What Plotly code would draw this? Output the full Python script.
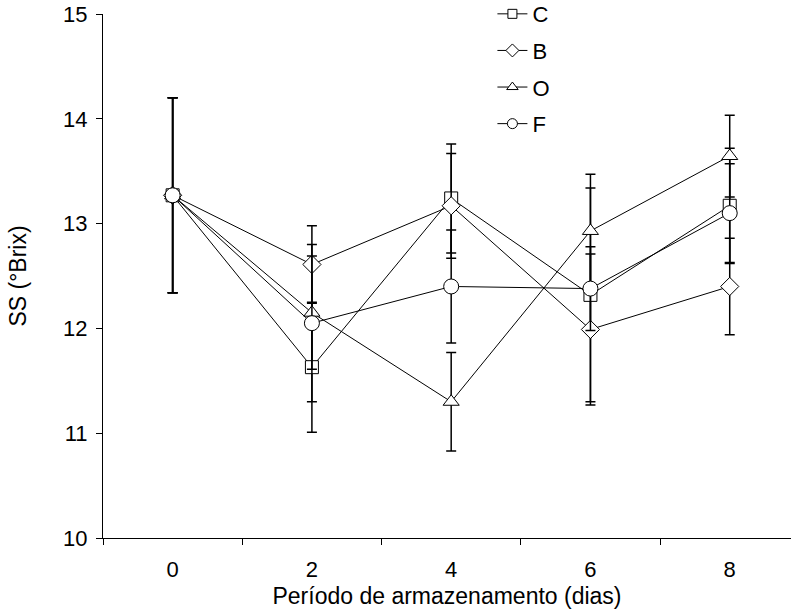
import plotly.graph_objects as go

days = ["0", "2", "4", "6", "8"]
series_names = ["C", "B", "O", "F"]
C_mean = [13.27, 11.63, 13.24, 12.32, 13.17]
C_err = [0.93, 0.62, 0.52, 1.02, 0.55]
B_mean = [13.27, 12.61, 13.17, 11.99, 12.40]
B_err = [0.93, 0.37, 0.50, 0.72, 0.46]
O_mean = [13.27, 12.15, 11.30, 12.93, 13.645]
O_err = [0.93, 0.54, 0.47, 0.54, 0.39]
F_mean = [13.27, 12.05, 12.40, 12.38, 13.10]
F_err = [0.93, 0.75, 0.54, 0.40, 0.47]

symbols = ["square", "diamond", "triangle-up", "circle"]
sizes = [13, 14, 14, 15]
legend_sizes = [9, 10, 10, 10]

FONT = "Liberation Sans, Arial, sans-serif"

xpos = list(range(len(days)))
fig = go.Figure()
for name, m, e, sym, sz in zip(series_names, [C_mean, B_mean, O_mean, F_mean],
                               [C_err, B_err, O_err, F_err], symbols, sizes):
    fig.add_trace(go.Scatter(
        x=xpos, y=m, name=name, mode="lines+markers", legendgroup=name, showlegend=False,
        line=dict(color="black", width=1),
        marker=dict(symbol=sym, size=sz, color="white", line=dict(color="black", width=1)),
        error_y=dict(type="data", array=e, visible=True, color="black", thickness=1.5, width=5),
    ))
# legend entries (smaller symbols, as in the reference legend)
for name, sym, lsz in zip(series_names, symbols, legend_sizes):
    fig.add_trace(go.Scatter(
        x=[None], y=[None], name=name, mode="lines+markers", legendgroup=name, showlegend=True,
        line=dict(color="black", width=1),
        marker=dict(symbol=sym, size=lsz, color="white", line=dict(color="black", width=1)),
    ))

fig.update_layout(
    width=791, height=616,
    margin=dict(l=103, r=0, t=14, b=78, autoexpand=False),
    paper_bgcolor="white", plot_bgcolor="white",
    font=dict(family=FONT, size=22, color="black"),
    showlegend=True,
    legend=dict(x=0.566, y=1.04, xanchor="left", yanchor="top", bgcolor="rgba(0,0,0,0)",
                font=dict(size=22), tracegroupgap=5, itemwidth=30),
    xaxis=dict(
        range=[-0.5, 4.44], tickmode="array", tickvals=xpos, ticktext=days,
        ticks="", showline=True, linecolor="black", linewidth=1, showgrid=False, zeroline=False,
        ticklabelstandoff=12,
        minor=dict(tickmode="array", tickvals=[-0.5, 0.5, 1.5, 2.5, 3.5], ticks="outside",
                   ticklen=6, tickcolor="black", tickwidth=1, showgrid=False),
        title=dict(text="Período de armazenamento (dias)", standoff=6, font=dict(size=23)),
    ),
    yaxis=dict(
        range=[10, 15], tickmode="linear", tick0=10, dtick=1, ticks="outside", ticklen=6,
        tickcolor="black", showline=True, linecolor="black", linewidth=1, showgrid=False,
        zeroline=False, ticklabelstandoff=4,
        title=dict(text="SS (°Brix)", standoff=30, font=dict(size=23)),
    ),
)

fig.write_html("out.html")
